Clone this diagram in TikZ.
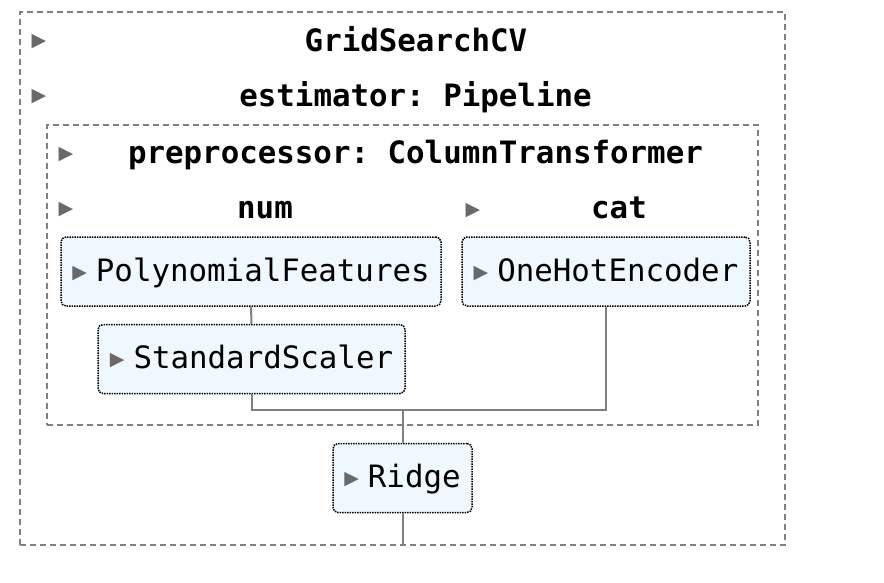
\documentclass[tikz,border=0pt]{standalone}
\usepackage{fontspec}
\setmonofont{DejaVu Sans Mono}
\newfontfamily\symfont{DejaVu Sans}
\usepackage{tikz}
\usetikzlibrary{positioning, calc}
\usepackage{xcolor}
\definecolor{cEst}{HTML}{F0F8FF}
\definecolor{cLine}{HTML}{808080}
\definecolor{cTri}{HTML}{696969}
\newcommand{\tri}{\raisebox{3pt}{\fontsize{19}{22}\selectfont\symfont\color{cTri}▶}}

\begin{document}
\begin{tikzpicture}[x=1pt, y=-1pt,
  lbl/.style={font=\fontsize{30.8}{36}\selectfont\ttfamily\bfseries, anchor=base, inner sep=0pt},
  tog/.style={inner sep=0pt},
  est/.style={draw, densely dotted, line width=1.5pt, rounded corners=5pt, fill=cEst,
    font=\fontsize{30.8}{36}\selectfont\ttfamily, text height=24pt, text depth=5pt,
    inner sep=0pt, minimum height=69pt},
  cont/.style={draw=cLine, dash pattern=on 6pt off 4pt, line width=1.5pt, inner sep=0pt},
  link/.style={draw=cLine, line width=2pt}
]
\useasboundingbox (0,0) rectangle (884,582);
% containers
\node[cont, minimum width=765pt, minimum height=533pt] (gscv) at (402.5,278.5) {};
\node[cont, minimum width=711pt, minimum height=300pt] (prep) at (402.5,275) {};
% headers
\node[tog] (t1) at (39,42) {\tri};
\node[lbl] (gslbl) at (416,51) {GridSearchCV};
\node[tog] (t2) at (39,97) {\tri};
\node[lbl] (pipelbl) at (415.5,106) {estimator: Pipeline};
\node[tog] (t3) at (66,155) {\tri};
\node[lbl] (ctlbl) at (415.5,163) {preprocessor: ColumnTransformer};
\node[tog] (t4) at (66,210) {\tri};
\node[lbl] (numlbl) at (265,218) {num};
\node[tog] (t5) at (473,211) {\tri};
\node[lbl] (catlbl) at (619,218) {cat};
% estimators
\node[est, minimum width=380pt] (pf) at (251,271.5) {\tri\hspace{9pt}PolynomialFeatures};
\node[est, minimum width=288pt] (ohe) at (606,271.5) {\tri\hspace{9pt}OneHotEncoder};
\node[est, minimum width=307pt] (ss) at (251.5,359) {\tri\hspace{9pt}StandardScaler};
\node[est, minimum width=139pt] (ridge) at (402.5,478) {\tri\hspace{9pt}Ridge};
% connectors
\coordinate (merge) at (402.5,410);
\draw[link] (pf) -- (ss);
\draw[link] (ss.south) |- (merge) -| (ohe.south);
\draw[link] (merge) -- (ridge.north);
\draw[link] (ridge.south) -- (ridge.south |- gscv.south);
\end{tikzpicture}
\end{document}
